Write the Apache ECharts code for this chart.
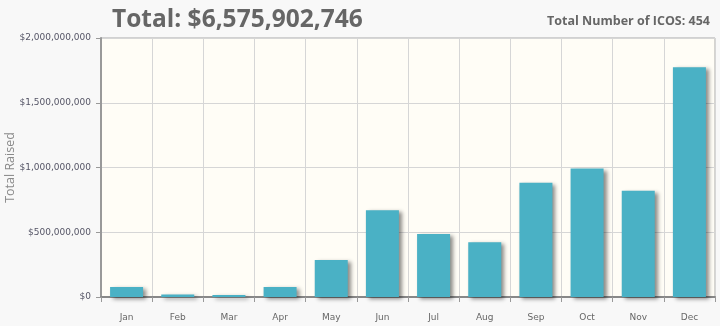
<!DOCTYPE html>
<html>
<head>
<meta charset="utf-8">
<script src="https://cdn.jsdelivr.net/npm/echarts@6/dist/echarts.min.js"></script>
<style>
  html, body { margin: 0; padding: 0; background: #f8f8f8; }
  #chart { width: 720px; height: 326px; }
</style>
</head>
<body>
<div id="chart"></div>
<script>
// Monthly ICO funding totals (USD)
const months = ['Jan', 'Feb', 'Mar', 'Apr', 'May', 'Jun', 'Jul', 'Aug', 'Sep', 'Oct', 'Nov', 'Dec'];
const totalRaised = [
  77000000, 20000000, 15000000, 77000000, 285000000, 669000000,
  487000000, 423000000, 882000000, 992000000, 820000000, 1774000000
];
const totalLabel = 'Total: $6,575,902,746';
const countLabel = 'Total Number of ICOS: 454';
const yTicks = { min: 0, max: 2000000000, step: 500000000 };

function money(v) {
  return '$' + String(Math.round(v)).replace(/\B(?=(\d{3})+(?!\d))/g, ',');
}

const chart = echarts.init(document.getElementById('chart'), null, { renderer: 'canvas' });
chart.setOption({
  backgroundColor: '#f8f8f8',
  animation: false,
  title: [
    {
      text: totalLabel,
      left: 107, top: 3,
      textStyle: { fontFamily: 'Open Sans', fontWeight: 'bold', fontSize: 24.5, color: '#666666' }
    },
    {
      text: countLabel,
      right: 5, top: 10,
      textStyle: { fontFamily: 'Open Sans', fontWeight: 'bold', fontSize: 12.5, color: '#666666' }
    }
  ],
  grid: {
    left: 101, right: 5, top: 38, bottom: 29,
    outerBoundsMode: 'none',
    containLabel: false,
    show: true,
    backgroundColor: '#fffdf6',
    borderColor: '#aaaaaa',
    borderWidth: 1
  },
  xAxis: {
    type: 'category',
    data: months,
    boundaryGap: true,
    axisLine: { lineStyle: { color: '#888888', width: 2 } },
    axisTick: { show: true, length: 5, lineStyle: { color: '#999999' } },
    splitLine: { show: true, lineStyle: { color: '#d6d6d6', width: 1 } },
    axisLabel: { fontFamily: 'DejaVu Sans', fontSize: 9, color: '#666666', margin: 16 }
  },
  yAxis: {
    type: 'value',
    min: yTicks.min, max: yTicks.max, interval: yTicks.step,
    name: 'Total Raised',
    nameLocation: 'middle',
    nameGap: 84,
    nameMoveOverlap: false,
    nameTextStyle: { fontFamily: 'Open Sans', fontSize: 12.5, color: '#8a8a8a' },
    axisLine: { show: true, lineStyle: { color: '#999999', width: 2 } },
    axisTick: { show: true, length: 5, lineStyle: { color: '#999999' } },
    splitLine: { show: true, lineStyle: { color: '#d6d6d6', width: 1 } },
    axisLabel: { fontFamily: 'DejaVu Sans', fontSize: 9, color: '#555566', margin: 10, formatter: money }
  },
  series: [{
    type: 'bar',
    data: totalRaised,
    barWidth: 33,
    itemStyle: {
      color: '#4ab1c5',
      shadowColor: 'rgba(0,0,0,0.45)',
      shadowBlur: 4,
      shadowOffsetX: 3,
      shadowOffsetY: 2
    }
  }]
});
</script>
</body>
</html>
